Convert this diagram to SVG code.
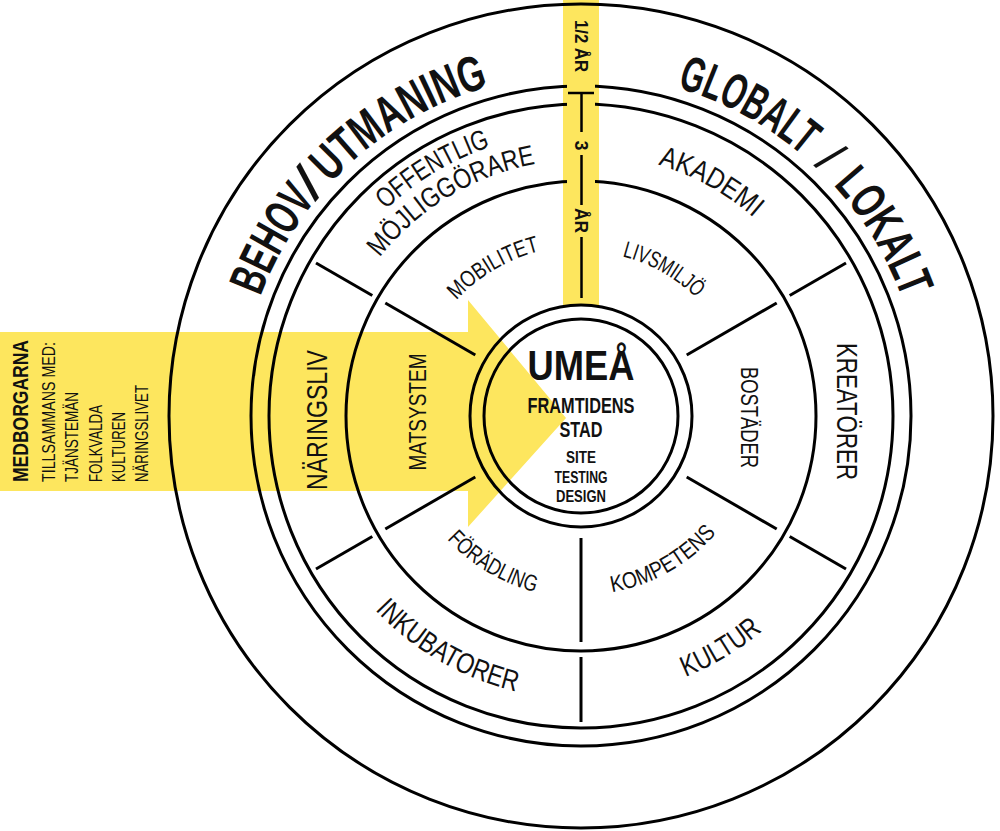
<svg xmlns="http://www.w3.org/2000/svg" width="1000" height="831" viewBox="0 0 1000 831">
<style>
.ring{fill:none;stroke:#000;stroke-width:3}
.dv{stroke:#000;stroke-width:3}
.bl{stroke:#000;stroke-width:2.5}
.t{font-family:"Liberation Sans",Arial,sans-serif;fill:#111}
.b{font-weight:bold}
.big{font-size:50px;font-weight:bold}
.outer{font-size:29px}
.inner{font-size:23px}
.yl{fill:#FDE65E}
</style>
<defs>
<path id="p-behov" d="M247.8,492.9 A342,342 0 0 1 681.0,88.9"/>
<path id="p-global" d="M481.0,88.9 A342,342 0 0 1 914.2,492.9"/>
<path id="p-off" d="M297.0,421.0 A284,284 0 0 1 718.7,167.6"/>
<path id="p-moj" d="M325.0,420.5 A256,256 0 0 1 705.1,192.1"/>
<path id="p-aka" d="M445.6,190.6 A263,263 0 0 1 844.0,411.4"/>
<path id="p-kul" d="M444.8,661.8 A281,281 0 0 0 862.0,411.1"/>
<path id="p-ink" d="M298,416 A283,283 0 0 0 722.5,661.1"/>
<path id="p-mob" d="M411.0,417.8 A170,170 0 0 1 664.5,267.9"/>
<path id="p-liv" d="M497.0,274.0 A165,165 0 0 1 746.0,414.3"/>
<path id="p-for" d="M399.0,412.8 A182,182 0 0 0 669.2,575.2"/>
<path id="p-kom" d="M490.2,570.2 A179,179 0 0 0 760.0,417.6"/>
</defs>
<rect width="1000" height="831" fill="#fff"/>
<g id="yellow-arrow">
<path class="yl" d="M0,332 H468 V300 L566,418 L468,527 V491 H0 Z"/>
</g>
<g id="yellow-bar">
<rect class="yl" x="563" y="0" width="36" height="306"/>
</g>
<g id="rings">
<circle class="ring" cx="581" cy="416" r="412"/>
<circle class="ring" cx="581" cy="416" r="330"/>
<circle class="ring" cx="581" cy="416" r="312"/>
<circle class="ring" cx="581" cy="416" r="235"/>
<circle class="ring" cx="581" cy="416" r="111"/>
<circle class="ring" cx="581" cy="416" r="97"/>
</g>
<rect class="yl" x="567" y="60" width="28" height="195"/>
<g id="connectors">
<line class="dv" x1="686.7" y1="355" x2="776.7" y2="303"/>
<line class="dv" x1="789.7" y1="295.5" x2="846" y2="263"/>
<line class="dv" x1="475.3" y1="355" x2="385.3" y2="303"/>
<line class="dv" x1="372.3" y1="295.5" x2="316" y2="263"/>
<line class="dv" x1="475.3" y1="477" x2="385.3" y2="529"/>
<line class="dv" x1="372.3" y1="536.5" x2="316" y2="569"/>
<line class="dv" x1="686.7" y1="477" x2="776.7" y2="529"/>
<line class="dv" x1="789.7" y1="536.5" x2="846" y2="569"/>
<line class="dv" x1="581" y1="538" x2="581" y2="642"/>
<line class="dv" x1="581" y1="657" x2="581" y2="722"/>
</g>
<g id="timeline">
<line class="bl" x1="568" y1="93" x2="594" y2="93"/>
<line class="bl" x1="581.5" y1="93" x2="581.5" y2="132"/>
<line class="bl" x1="581.5" y1="155" x2="581.5" y2="205"/>
<line class="bl" x1="581.5" y1="237" x2="581.5" y2="298"/>
<text class="t b" font-size="18" transform="translate(575,20) rotate(90)" textLength="52" lengthAdjust="spacingAndGlyphs">1/2 ÅR</text>
<text class="t b" font-size="18" text-anchor="middle" transform="translate(575,145.5) rotate(90)">3</text>
<text class="t b" font-size="18" text-anchor="middle" transform="translate(575,220.5) rotate(90)" textLength="25" lengthAdjust="spacingAndGlyphs">ÅR</text>
</g>
<g id="medborgarna">
<text class="t b" font-size="22" transform="translate(28,482) rotate(-90)" textLength="142" lengthAdjust="spacingAndGlyphs">MEDBORGARNA</text>
<text class="t" font-size="18" transform="translate(55,482) rotate(-90)" textLength="140" lengthAdjust="spacingAndGlyphs">TILLSAMMANS MED:</text>
<text class="t" font-size="18" transform="translate(78.3,482) rotate(-90)" textLength="90" lengthAdjust="spacingAndGlyphs">TJÄNSTEMÄN</text>
<text class="t" font-size="18" transform="translate(101.6,482) rotate(-90)" textLength="77" lengthAdjust="spacingAndGlyphs">FOLKVALDA</text>
<text class="t" font-size="18" transform="translate(124.9,482) rotate(-90)" textLength="70" lengthAdjust="spacingAndGlyphs">KULTUREN</text>
<text class="t" font-size="18" transform="translate(148.2,482) rotate(-90)" textLength="97" lengthAdjust="spacingAndGlyphs">NÄRINGSLIVET</text>
</g>
<g id="behov">
<text class="t big"><textPath href="#p-behov" startOffset="199.4" textLength="112" lengthAdjust="spacingAndGlyphs">BEHOV</textPath></text>
<text class="t big" text-anchor="middle" transform="translate(318.7,196.5) rotate(-50.06) skewX(-12)">/</text>
<text class="t big"><textPath href="#p-behov" startOffset="333.4" textLength="188" lengthAdjust="spacingAndGlyphs">UTMANING</textPath></text>
</g>
<g id="globalt">
<text class="t big"><textPath href="#p-global" startOffset="198.8" textLength="144" lengthAdjust="spacingAndGlyphs">GLOBALT</textPath></text>
<text class="t" font-size="50"><textPath href="#p-global" startOffset="363.8" text-anchor="middle">/</textPath></text>
<text class="t big"><textPath href="#p-global" startOffset="384.8" textLength="134" lengthAdjust="spacingAndGlyphs">LOKALT</textPath></text>
</g>
<g id="offentlig">
<text class="t" font-size="28"><textPath href="#p-off" startOffset="50%" text-anchor="middle" textLength="123" lengthAdjust="spacingAndGlyphs">OFFENTLIG</textPath></text>
<text class="t" font-size="28"><textPath href="#p-moj" startOffset="50%" text-anchor="middle" textLength="186" lengthAdjust="spacingAndGlyphs">MÖJLIGGÖRARE</textPath></text>
</g>
<g id="akademi">
<text class="t outer"><textPath href="#p-aka" startOffset="50%" text-anchor="middle" textLength="110" lengthAdjust="spacingAndGlyphs">AKADEMI</textPath></text>
</g>
<g id="kreatorer">
<text class="t outer" text-anchor="middle" transform="translate(837,411.5) rotate(90)" textLength="137" lengthAdjust="spacingAndGlyphs">KREATÖRER</text>
</g>
<g id="kultur">
<text class="t outer"><textPath href="#p-kul" startOffset="50%" text-anchor="middle" textLength="90" lengthAdjust="spacingAndGlyphs">KULTUR</textPath></text>
</g>
<g id="inkubatorer">
<text class="t outer"><textPath href="#p-ink" startOffset="50%" text-anchor="middle" textLength="165" lengthAdjust="spacingAndGlyphs">INKUBATORER</textPath></text>
</g>
<g id="naringsliv">
<text class="t outer" text-anchor="middle" transform="translate(327,420) rotate(-90)" textLength="140" lengthAdjust="spacingAndGlyphs">NÄRINGSLIV</text>
</g>
<g id="mobilitet">
<text class="t inner"><textPath href="#p-mob" startOffset="50%" text-anchor="middle" textLength="98" lengthAdjust="spacingAndGlyphs">MOBILITET</textPath></text>
</g>
<g id="livsmiljo">
<text class="t inner"><textPath href="#p-liv" startOffset="50%" text-anchor="middle" textLength="86" lengthAdjust="spacingAndGlyphs">LIVSMILJÖ</textPath></text>
</g>
<g id="bostader">
<text class="t inner" text-anchor="middle" transform="translate(741,417.5) rotate(90)" textLength="101" lengthAdjust="spacingAndGlyphs">BOSTÄDER</text>
</g>
<g id="kompetens">
<text class="t inner"><textPath href="#p-kom" startOffset="50%" text-anchor="middle" textLength="122" lengthAdjust="spacingAndGlyphs">KOMPETENS</textPath></text>
</g>
<g id="foradling">
<text class="t inner"><textPath href="#p-for" startOffset="50%" text-anchor="middle" textLength="104" lengthAdjust="spacingAndGlyphs">FÖRÄDLING</textPath></text>
</g>
<g id="matsystem">
<text class="t inner" text-anchor="middle" transform="translate(426,412) rotate(-90)" textLength="117" lengthAdjust="spacingAndGlyphs">MATSYSTEM</text>
</g>
<g id="umea">
<text class="t b" font-size="43" x="581" y="380" text-anchor="middle" textLength="107" lengthAdjust="spacingAndGlyphs">UMEÅ</text>
<text class="t b" font-size="22" x="581" y="413" text-anchor="middle" textLength="107" lengthAdjust="spacingAndGlyphs">FRAMTIDENS</text>
<text class="t b" font-size="22" x="581" y="437" text-anchor="middle" textLength="43" lengthAdjust="spacingAndGlyphs">STAD</text>
<text class="t b" font-size="17" x="581" y="463" text-anchor="middle" textLength="30" lengthAdjust="spacingAndGlyphs">SITE</text>
<text class="t b" font-size="17" x="581" y="483" text-anchor="middle" textLength="53" lengthAdjust="spacingAndGlyphs">TESTING</text>
<text class="t b" font-size="17" x="581" y="502" text-anchor="middle" textLength="50" lengthAdjust="spacingAndGlyphs">DESIGN</text>
</g>
</svg>
